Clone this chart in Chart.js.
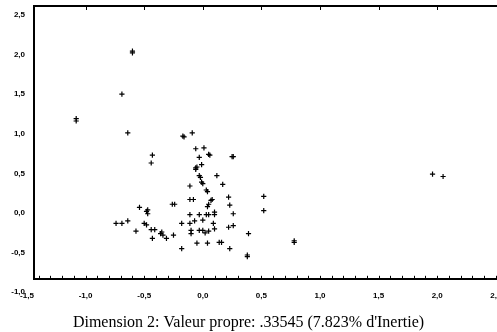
<!DOCTYPE html>
<html>
<head>
<meta charset="utf-8">
<script src="https://cdn.jsdelivr.net/npm/chart.js@4.4.1/dist/chart.umd.min.js"></script>
<style>
  body { margin: 0; background: #fff; }
  #wrap { width: 497px; height: 332px; }
</style>
</head>
<body>
<div id="wrap"><canvas id="myChart" width="497" height="332"></canvas></div>
<script>
// Dimension 2 (x) et Dimension 1 (y)
var dim2 = [-0.60, -0.60, -0.69, -1.08, -1.08, -0.64, -0.17, -0.16, -0.09, -0.43,
            -0.44, -0.06, 0.01, -0.03, 0.05, 0.06, 0.25, 0.26, -0.06, -0.05,
            -0.06, -0.01, -0.03, -0.02, 0.12, 0.17, -0.01, 0.00, -0.11, 0.03,
            0.04, 0.22, -0.11, -0.08, 0.07, 0.08, -0.26, -0.24, 0.05, 0.04,
            0.23, 0.26, -0.54, -0.48, -0.47, -0.47, -0.11, -0.03, 0.03, 0.05,
            0.10, 0.10, -0.74, -0.69, -0.64, -0.50, -0.48, -0.18, -0.11, -0.07,
            0.00, 0.09, 0.22, 0.26, -0.57, -0.44, -0.41, -0.35, -0.34, -0.36,
            -0.25, -0.43, -0.31, -0.10, -0.10, -0.03, 0.02, 0.05, 0.10, 0.00,
            -0.05, 0.04, 0.16, 0.14, 0.23, -0.18, 0.39, 0.38, 0.38, 0.78,
            0.78, 0.52, 0.52, 1.96, 2.05];
var dim1 = [2.02, 2.04, 1.50, 1.16, 1.19, 1.01, 0.97, 0.96, 1.01, 0.73,
            0.63, 0.81, 0.82, 0.70, 0.74, 0.73, 0.71, 0.71, 0.57, 0.58,
            0.55, 0.61, 0.47, 0.45, 0.47, 0.36, 0.39, 0.37, 0.34, 0.29,
            0.27, 0.20, 0.17, 0.17, 0.16, 0.17, 0.11, 0.11, 0.11, 0.08,
            0.10, -0.01, 0.07, 0.02, 0.04, -0.01, -0.02, -0.02, -0.02, -0.02,
            -0.02, 0.01, -0.13, -0.13, -0.10, -0.13, -0.15, -0.13, -0.13, -0.10,
            -0.09, -0.13, -0.18, -0.16, -0.23, -0.21, -0.21, -0.24, -0.28, -0.26,
            -0.28, -0.32, -0.32, -0.22, -0.26, -0.22, -0.25, -0.23, -0.20, -0.22,
            -0.38, -0.38, -0.37, -0.37, -0.45, -0.45, -0.26, -0.55, -0.53, -0.37,
            -0.35, 0.21, 0.03, 0.49, 0.46];

var xTicks = [-1.5, -1.0, -0.5, 0.0, 0.5, 1.0, 1.5, 2.0, 2.5];
var yTicks = [-1.0, -0.5, 0.0, 0.5, 1.0, 1.5, 2.0, 2.5];
var titreX = "Dimension 2: Valeur propre: .33545 (7.823% d'Inertie)";

var points = [];
for (var i = 0; i < dim2.length; i++) {
    points.push({ x: dim2[i], y: dim1[i] });
}

function virgule(v) {
    return Number(v).toFixed(1).replace('.', ',');
}

// petites graduations en bas et en haut du cadre
const cadre = {
    id: 'cadre',
    afterDraw: function (chart) {
        const ctx = chart.ctx;
        const a = chart.chartArea;
        const sx = chart.scales.x;
        ctx.save();
        ctx.strokeStyle = '#000';
        ctx.lineWidth = 2;
        ctx.beginPath();
        ctx.moveTo(a.left - 1, a.top);
        ctx.lineTo(a.right, a.top);
        ctx.stroke();
        ctx.lineWidth = 1;
        ctx.beginPath();
        for (var k = -14; k <= 25; k++) {
            var px = Math.round(sx.getPixelForValue(k / 10)) + 0.5;
            if (px < a.left || px > a.right) continue;
            ctx.moveTo(px, a.bottom);
            ctx.lineTo(px, a.bottom - 3);
        }
        for (var j = 1; j < xTicks.length - 1; j++) {
            var tx = Math.round(sx.getPixelForValue(xTicks[j])) + 0.5;
            ctx.moveTo(tx, a.top);
            ctx.lineTo(tx, a.top + 4);
        }
        ctx.stroke();
        ctx.restore();
    }
};

const ctx = document.getElementById('myChart').getContext('2d');
const myChart = new Chart(ctx, {
    type: 'scatter',
    data: {
        datasets: [{
            data: points,
            pointStyle: 'cross',
            pointRadius: 2.6,
            pointBorderWidth: 1.2,
            borderColor: '#000',
            backgroundColor: '#000',
            pointHoverRadius: 2.6
        }]
    },
    options: {
        responsive: false,
        animation: false,
        events: [],
        layout: { autoPadding: false, padding: { top: 6, right: 0, left: 0, bottom: 0 } },
        plugins: {
            legend: { display: false },
            tooltip: { enabled: false },
            title: {
                display: true,
                position: 'bottom',
                text: titreX,
                color: '#000',
                font: { family: 'Liberation Serif', size: 16, weight: 'normal' },
                padding: { top: 2, bottom: 0 }
            }
        },
        scales: {
            x: {
                type: 'linear',
                min: -1.44,
                max: 2.51,
                afterBuildTicks: function (scale) {
                    scale.ticks = xTicks.map(v => ({ value: v }));
                },
                afterFit: function (scale) {
                    scale.height = 32;
                    scale.paddingLeft = 0;
                    scale.paddingRight = 0;
                },
                grid: { display: false, drawTicks: false },
                border: { display: true, color: '#000', width: 2 },
                ticks: {
                    autoSkip: false,
                    maxRotation: 0,
                    padding: 12,
                    color: '#000',
                    font: { family: 'Liberation Sans', size: 8, weight: 'bold' },
                    callback: function (v) { return virgule(v); }
                }
            },
            y: {
                type: 'linear',
                min: -0.83,
                max: 2.61,
                afterBuildTicks: function (scale) {
                    scale.ticks = yTicks.map(v => ({ value: v }));
                },
                afterFit: function (scale) {
                    scale.width = 34;
                    scale.paddingTop = 0;
                    scale.paddingBottom = 0;
                },
                grid: { display: false, drawTicks: false },
                border: { display: true, color: '#000', width: 2 },
                ticks: {
                    autoSkip: false,
                    padding: 9,
                    color: '#000',
                    font: { family: 'Liberation Sans', size: 8, weight: 'bold' },
                    callback: function (v) { return virgule(v); }
                }
            }
        }
    },
    plugins: [cadre]
});
</script>
</body>
</html>
